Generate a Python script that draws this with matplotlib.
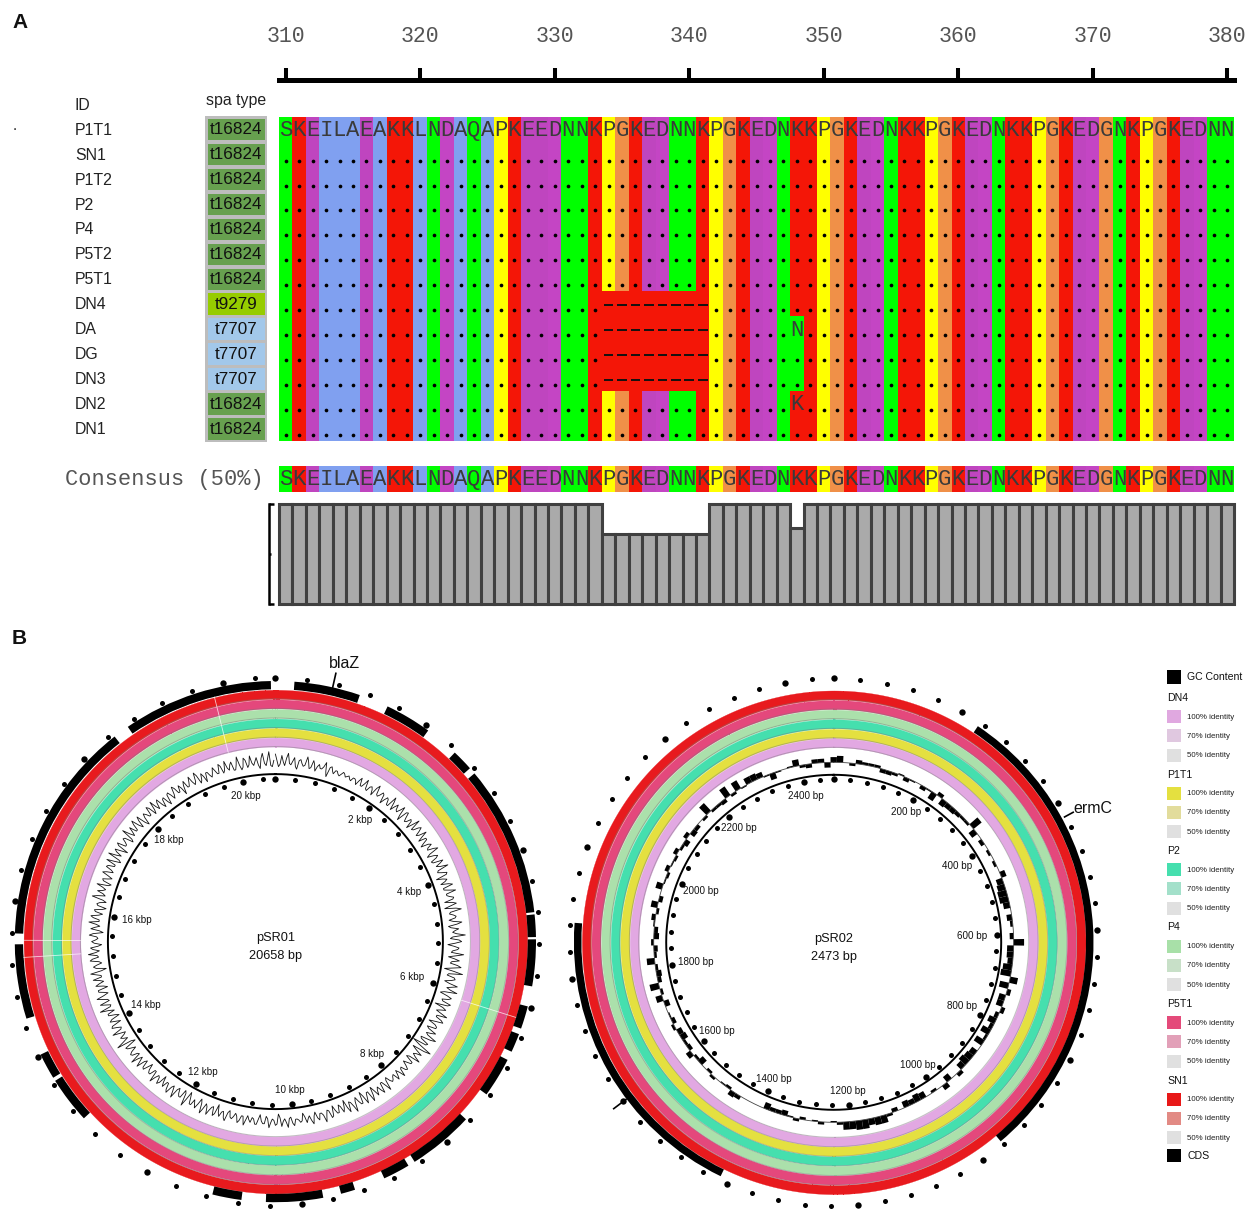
import numpy as np
import matplotlib
matplotlib.use("Agg")
import matplotlib.pyplot as plt
from matplotlib.colors import ListedColormap
from matplotlib.patches import Rectangle

plt.rcParams["font.family"] = ["Liberation Sans", "DejaVu Sans"]

W, H = 1248, 1211

# alignment
ids = ["P1T1", "SN1", "P1T2", "P2", "P4", "P5T2", "P5T1", "DN4", "DA", "DG", "DN3", "DN2", "DN1"]
spa_types = ["t16824"] * 7 + ["t9279", "t7707", "t7707", "t7707", "t16824", "t16824"]
spa_colors = {"t16824": "#67a04f", "t9279": "#96cc00", "t7707": "#a2c8ea"}
consensus = "SKEILAEAKKLNDAQAPKEEDNNKPGKEDNNKPGKEDNKKPGKEDNKKPGKEDNKKPGKEDGNKPGKEDNN"
first_pos = 310
gap_rows = [7, 8, 9, 10]
gap_cols = [334, 335, 336, 337, 338, 339, 340, 341]
# row, position, residue, shown as a letter
variants = [(8, 348, "N", True), (9, 348, "N", False), (10, 348, "N", False), (11, 348, "K", True)]
conservation = [100] * 24 + [70] * 8 + [100] * 6 + [76] + [100] * 32
residue_colors = {"S": "#00ff00", "N": "#00ff00", "Q": "#00ff00", "K": "#f41607", "E": "#bf45bf",
                  "D": "#c445c4", "A": "#80a0f0", "I": "#80a0f0", "L": "#80a0f0", "P": "#ffff00",
                  "G": "#f09048", "-": "#f41607"}

# plasmid rings, outermost first
ring_colors = ["#e81a1e", "#e4487c", "#abe0ab", "#45dfae", "#e4e040", "#e2a8e2"]
ring_outer = [251.8, 242.2, 232.6, 223.0, 213.4, 204.0]
seams_1 = [346, 107.5, 266.4, 270.3]

# CDS arcs, degrees clockwise from the origin
cds1_start = [4.2, 25.5, 43.5, 49.8, 84.0, 89.5, 104.4, 110.8, 117, 133, 149.3, 162.2, 169.4, 187.5, 227.3, 238.5, 252.8, 271.8, 325.5]
cds1_end = [18.9, 35.9, 48.3, 83.5, 89.0, 99.9, 109.5, 115, 125.9, 147.7, 155.3, 165.4, 182.1, 194, 237.7, 244.3, 269.4, 321.9, 359]
cds2_start = [33.7, 205.8]
cds2_end = [140, 274.3]

len_1, len_2 = 20658, 2473
tick_1, tick_2 = 400, 40

# GC skew of pSR01, two readings per degree
gc1_a = [6,-4,5,-3,7,-2,4,-5,3,-2,6,-3,4,-4,2,-1,5,-6,3,-2,1,-2,2,-1,1,-2,1,-3,4,-2,
         5,-3,2,-4,6,-2,3,-5,2,-3,6,-4,3,-2,5,-6,4,-3,2,-5,6,-2,4,-3,5,-4,2,-5,3,-2,
         6,-5,3,-4,5,-2,7,-3,4,-6,2,-4,5,-3,6,-2,3,-5,4,-6,7,-3,2,-4,6,-5,3,-2,8,-4,
         5,-6,3,-2,7,-5,4,-3,6,-7,8,-4,3,-5,6,-2,7,-6,4,-3,5,-7,3,-4,6,-2,5,-6,2,-5,
         4,-3,7,-5,3,-9,9,-6,4,-2,6,-5,2,-4,3,-2,5,-3,4,-1,2,-4,6,-3,5,-2,4,-5,6,-3,
         5,-6,3,-4,7,-2,5,-6,3,-4,2,-5,4,-3,6,-2,3,-4,5,-2,3,-5,2,-1,4,-3,5,-2,4,-6,
         3,-2,5,-4,2,-5,3,-1,2,-3,5,-2,4,-3,2,-4,5,-2,3,-6,4,-2,5,-3,6,-5,4,-2,3,-6,
         7,-5,2,-4,6,-3,5,-2,3,-5,4,-2,6,-3,2,-5,3,-4,5,-3,6,-2,3,-4,2,-7,8,-3,2,-4,
         6,-3,4,-5,3,-6,2,-4,7,-3,5,-2,6,-4,3,-5,4,-3,5,-2,6,-7,3,-4,5,-2,6,-3,4,-5,
         3,-2,5,-6,4,-3,6,-2,5,-4,3,-6,2,-5,7,-3,4,-2,6,-5,3,-4,5,-3,4,-2,6,-5,7,-3,
         4,-6,5,-2,3,-5,7,-3,4,-2,6,-4,5,-6,3,-2,5,-4,6,-3,4,-5,2,-6,3,-4,5,-2,3,-6,
         4,-2,5,-3,6,-4,3,-5,2,-3,4,-2,5,-3,6,-2,4,-3,7,-4,5,-3,6,-2,4,-5,7,-3,8,-4]
gc1_b = [1,-2,0,3,-1,1,-3,2,0,-1,2,-2,1,0,-1,1,-2,2,0,1,-1,0,1,0,-1,1,0,1,-2,1,
         -2,1,0,3,-1,0,2,-1,1,-3,2,0,-1,1,-2,3,0,-2,1,0,-3,2,1,-1,0,2,-2,1,-1,3,
         -2,0,1,-3,2,1,-2,0,3,-1,0,2,-3,1,-2,0,2,1,-1,3,-2,0,1,-1,2,-3,0,1,-2,3,
         0,-1,2,-3,1,0,-2,3,-1,1,-3,2,0,-1,2,1,-3,0,2,-2,3,0,-1,1,-2,3,-1,0,2,-3,
         1,-1,3,-4,2,-3,4,-2,0,1,-3,2,-1,0,2,-1,0,1,-2,1,0,-2,1,-3,2,0,-1,2,-3,1,
         -2,3,0,-1,2,-3,1,0,-2,2,-1,3,-2,1,0,-2,1,-1,2,0,-2,1,0,-1,2,-2,1,0,-3,2,
         -1,1,-2,2,0,-1,3,-2,0,1,-2,2,-1,0,1,-2,3,-1,0,2,-3,1,-1,2,-2,0,1,3,-2,1,
         -3,2,0,-2,1,-1,3,-2,0,2,-1,1,-3,2,0,-1,2,-2,1,0,-3,2,1,-1,3,-4,2,0,-2,1,
         -2,0,3,-1,1,-3,2,0,-2,1,-3,2,0,-1,3,-2,1,0,-2,2,-3,1,0,-2,3,-1,0,2,-2,1,
         0,-1,2,-3,1,0,-2,3,-1,2,-3,1,0,-2,3,-1,0,1,-3,2,-1,0,2,-1,3,-2,0,-3,1,2,
         -1,3,-2,0,2,-3,1,0,-2,3,-1,2,-3,0,1,-2,3,-1,0,2,-2,1,-3,2,0,-1,3,-2,0,1,
         -2,1,0,-1,3,-2,0,2,-1,0,1,-2,3,-1,0,2,-3,1,0,-2,3,-1,0,1,-2,3,-1,2,-3,1]

# GC content of pSR02, one bar every 2 degrees
gc2 = [4,5,0,-2,3,2,2,2,-3,-3,-2,1,-3,-1,0,-3,-1,-6,3,-5,-4,-4,-3,-2,-2,8,-5,0,-3,0,
       -2,0,-2,0,4,-5,-6,-7,-7,-5,0,-4,-2,0,-3,
       8,-5,-5,-4,-7,-8,6,-7,3,-5,-5,3,-3,-6,-3,-7,-2,-7,0,-5,-6,-7,-5,3,0,-5,4,0,-2,0,
       -5,-6,-4,-5,0,-3,2,6,6,5,7,7,6,6,2,
       -1,0,2,-1,0,-2,2,-1,-4,-3,-3,-5,0,0,0,0,3,4,-2,-1,0,2,-2,0,-5,-2,4,-3,-2,-5,
       -4,2,-3,-1,0,-4,5,-2,7,-3,-4,-2,6,-2,-3,
       2,-4,-3,1,3,-2,5,-3,0,5,-1,-2,3,-1,-2,3,-2,-4,3,-4,-3,0,-2,8,-2,-2,-3,8,-2,7,
       -1,5,5,4,-1,-5,-1,0,1,5,-2,-3,3,3,-4]

# legend
legend_groups = ["DN4", "P1T1", "P2", "P4", "P5T1", "SN1"]
legend_100 = ["#e0a8e0", "#e4e040", "#45dfae", "#a8e0a8", "#e44a7a", "#e81818"]
legend_70 = ["#e0c8e0", "#e2dc9c", "#a3e0ca", "#c8e0c8", "#e2a0b8", "#e28a84"]
legend_50 = ["#e0e0e0"] * 6
identity_labels = ["100% identity", "70% identity", "50% identity"]

fig = plt.figure(figsize=(W / 100, H / 100), dpi=100)


def px_axes(x0, y0, x1, y1, **kw):
    return fig.add_axes([x0 / W, 1 - y1 / H, (x1 - x0) / W, (y1 - y0) / H], **kw)


page = px_axes(0, 0, W, H)
page.set_xlim(0, W)
page.set_ylim(H, 0)
page.axis("off")

AL_X0, AL_X1 = 279, 1234
n_cols = len(consensus)
xlim = (first_pos - 0.5, first_pos + n_cols - 0.5)
letters = sorted(residue_colors)
cmap = ListedColormap([residue_colors[c] for c in letters])
LETTER = "#3a3a3a"


def grid_from(row_strings):
    return np.array([[letters.index(c) for c in r] for r in row_strings])


# ruler
ruler = px_axes(AL_X0, 80, AL_X1, 84)
ruler.set_xlim(xlim)
ruler.set_yticks([])
for s in ["left", "right", "bottom"]:
    ruler.spines[s].set_visible(False)
ruler.spines["top"].set_linewidth(3.6)
ruler.xaxis.tick_top()
ruler.set_xticks(range(310, 381, 10))
ruler.tick_params(axis="x", length=8.5, width=2.9, pad=15.5, labelsize=15.5, labelcolor="#555555")
for t in ruler.get_xticklabels():
    t.set_family("Liberation Mono")

# alignment block
rows = [list(consensus) for _ in ids]
for r in gap_rows:
    for p in gap_cols:
        rows[r][p - first_pos] = "-"
for r, p, res, _ in variants:
    rows[r][p - first_pos] = res

al = px_axes(AL_X0, 117, AL_X1, 441)
al.imshow(grid_from(rows), cmap=cmap, vmin=0, vmax=len(letters) - 1, aspect="auto",
          interpolation="nearest", extent=[xlim[0], xlim[1], len(ids), 0])
al.axis("off")
shown = {(r, p) for r, p, _, s in variants if s}
dot_x, dot_y = [], []
for r in range(1, len(ids)):
    for i in range(n_cols):
        p = first_pos + i
        if (r, p) in shown or (r in gap_rows and p in gap_cols):
            continue
        dot_x.append(p)
        dot_y.append(r + 0.75)
al.scatter(dot_x, dot_y, s=7, color="black", linewidths=0, zorder=3)
for i, c in enumerate(consensus):
    al.text(first_pos + i, 0.55, c, family="Liberation Mono", fontsize=16, color=LETTER,
            ha="center", va="center")
for r, p, res, s in variants:
    if s:
        al.text(p, r + 0.55, res, family="Liberation Mono", fontsize=16, color=LETTER,
                ha="center", va="center")
for r in gap_rows:
    al.hlines([r + 0.55] * len(gap_cols), np.array(gap_cols) - 0.36, np.array(gap_cols) + 0.36,
              color="#111111", lw=1.4)

# id labels and spa type boxes
page.text(75, 105.5, "ID", fontsize=11.3, ha="left", va="center", color="#222222")
page.text(236, 100, "spa type", fontsize=11.4, ha="center", va="center", color="#222222")
page.text(15, 126, ".", fontsize=11, ha="center", va="center", color="#222222")
page.add_patch(Rectangle((205, 116), 62, 326, facecolor="#bdbdbd", edgecolor="none"))
row_h = 324 / len(ids)
for i, (name, spa) in enumerate(zip(ids, spa_types)):
    yc = 117 + (i + 0.5) * row_h
    page.text(75, yc + 0.8, name, fontsize=11.4, ha="left", va="center", color="#222222")
    page.add_patch(Rectangle((208, yc - row_h / 2 + 2), 57, row_h - 3.5, facecolor=spa_colors[spa], edgecolor="none"))
    page.text(236.5, yc + 0.5, spa, fontsize=12.3, ha="center", va="center", color="#111111")

# consensus row
page.text(65, 479, "Consensus (50%)", family="Liberation Mono", fontsize=15.8, ha="left", va="center", color="#555555")
cons = px_axes(AL_X0, 466, AL_X1, 491.7)
cons.imshow(grid_from([consensus]), cmap=cmap, vmin=0, vmax=len(letters) - 1, aspect="auto",
            interpolation="nearest", extent=[xlim[0], xlim[1], 1, 0])
cons.axis("off")
for i, c in enumerate(consensus):
    cons.text(first_pos + i, 0.52, c, family="Liberation Mono", fontsize=16, color=LETTER,
              ha="center", va="center")

# conservation bars
bars = px_axes(AL_X0, 504, AL_X1, 604)
bars.bar(np.arange(first_pos, first_pos + n_cols), conservation, width=1, facecolor="#aaaaaa",
         edgecolor="#404040", linewidth=2.2, clip_on=False)
bars.set_xlim(xlim)
bars.set_ylim(0, 100)
bars.set_xticks([])
for s in ["right", "top", "bottom"]:
    bars.spines[s].set_visible(False)
bars.spines["left"].set_position(("outward", 7))
bars.spines["left"].set_linewidth(1.8)
bars.set_yticks([0, 100])
bars.set_yticks([50], minor=True)
bars.set_yticklabels([])
bars.tick_params(axis="y", which="major", direction="in", length=3.5, width=1.8)
bars.tick_params(axis="y", which="minor", direction="in", length=1.5, width=1.8)

page.text(12, 23, "A", fontsize=15, fontweight="bold", ha="left", va="center", color="#111111")
page.text(12, 638, "B", fontsize=15, fontweight="bold", ha="left", va="center", color="#111111")

theta_full = np.linspace(0, 2 * np.pi, 1441)
R_AX = 300


def plasmid_axes(cx, cy):
    ax = px_axes(cx - R_AX, cy - R_AX, cx + R_AX, cy + R_AX, projection="polar")
    ax.set_theta_zero_location("N")
    ax.set_theta_direction(-1)
    ax.set_rlim(0, R_AX)
    ax.axis("off")
    ax.patch.set_visible(False)
    return ax


def draw_plasmid(ax, title, length, tick, cds_start, cds_end, cds_w):
    # identity rings
    for col, r_out in zip(ring_colors, ring_outer):
        ax.fill_between(theta_full, r_out - 9.0, r_out, facecolor=col, edgecolor=col, linewidth=0.2)
        ax.plot(theta_full, np.full_like(theta_full, r_out - 9.0), color="#777777", alpha=0.45, lw=0.7)
    # backbone and ticks
    ax.plot(theta_full, np.full_like(theta_full, 167.5), color="black", lw=1.4)
    pos = np.arange(0, length, tick)
    th = pos / length * 2 * np.pi
    big = np.arange(len(pos)) % 5 == 0
    for r in (163, 264):
        ax.scatter(th[~big], np.full((~big).sum(), r), s=13, color="black", linewidths=0, zorder=4)
        ax.scatter(th[big], np.full(big.sum(), r), s=21, color="black", linewidths=0, zorder=4)
    # CDS
    st = np.radians(cds_start)
    ax.bar(st, cds_w, width=np.radians(cds_end) - st, bottom=252.3, align="edge", color="black", linewidth=0)
    # centre
    ax.text(np.pi, 5.5, title[0] + "\n" + title[1], fontsize=9.2, ha="center", va="center", linespacing=1.72, color="#111111")
    return pos, th


def scale_labels(ax, pos, th, fmt):
    for p, t in zip(pos, th):
        r = 149 - 10 * np.sin(t) ** 6
        ax.text(t, r, fmt(p), fontsize=7.1, ha="center", va="center", color="#111111")


# pSR01
ax1 = plasmid_axes(275.4, 941.6)
pos, th = draw_plasmid(ax1, ("pSR01", "20658 bp"), len_1, tick_1, cds1_start, cds1_end, 8.3)
sel = (pos % 2000 == 0) & (pos > 0)
scale_labels(ax1, pos[sel], th[sel], lambda p: f"{p // 1000} kbp")
for a in seams_1:
    t = np.radians(a)
    ax1.plot([t, t], [195, 252], color="white", lw=0.6, alpha=0.75, zorder=3)
gc1 = np.column_stack([gc1_a, gc1_b]).ravel() * 1.25
theta_gc1 = np.radians(np.arange(len(gc1)) * 0.5)
ax1.plot(theta_gc1, 180 + gc1, color="#111111", lw=0.6, zorder=3)
t = np.radians(12.7)
ax1.plot([t, t], [260, 275], color="black", lw=1.2)
ax1.text(np.radians(13.9), 286.4, "blaZ", fontsize=11.5, ha="center", va="center", color="#111111")

# pSR02
ax2 = plasmid_axes(833.7, 942.3)
pos, th = draw_plasmid(ax2, ("pSR02", "2473 bp"), len_2, tick_2, cds2_start, cds2_end, 7.5)
sel = (pos % 200 == 0) & (pos > 0)
scale_labels(ax2, pos[sel], th[sel], lambda p: f"{p} bp")
ax2.plot(theta_full, np.full_like(theta_full, 180), color="#444444", lw=0.6)
theta_gc2 = np.radians(np.arange(len(gc2)) * 2)
ax2.bar(theta_gc2, np.array(gc2, dtype=float) * 1.3, width=np.radians(2), bottom=180, color="black", linewidth=0)
t = np.radians(61.5)
ax2.plot([t, t], [262.7, 272.5], color="black", lw=1.2)
ax2.text(np.radians(62.6), 291.7, "ermC", fontsize=11.5, ha="center", va="center", color="#111111")
t = np.radians(232.9)
ax2.plot([t, t], [260.4, 275.8], color="black", lw=1.2)

# legend
LEG_X, LEG_TX = 1167, 1187
page.add_patch(Rectangle((LEG_X, 670), 14, 14, facecolor="black", edgecolor="none"))
page.text(LEG_TX, 677.5, "GC Content", fontsize=7.6, ha="left", va="center", color="#111111")
for i, g in enumerate(legend_groups):
    y0 = 698 + i * 76.5
    page.text(LEG_X, y0, g, fontsize=7.6, ha="left", va="center", color="#111111")
    swatches = [legend_100[i], legend_70[i], legend_50[i]]
    for j, (col, lab) in enumerate(zip(swatches, identity_labels)):
        yc = y0 + 18.7 + j * 19.2
        page.add_patch(Rectangle((LEG_X, yc - 6.5), 13.5, 13, facecolor=col, edgecolor="none"))
        page.text(LEG_TX, yc + 0.5, lab, fontsize=5.7, ha="left", va="center", color="#222222")
page.add_patch(Rectangle((LEG_X, 1149), 14, 13, facecolor="black", edgecolor="none"))
page.text(LEG_TX, 1156, "CDS", fontsize=7.6, ha="left", va="center", color="#111111")

fig.savefig("out.png", dpi=100)
